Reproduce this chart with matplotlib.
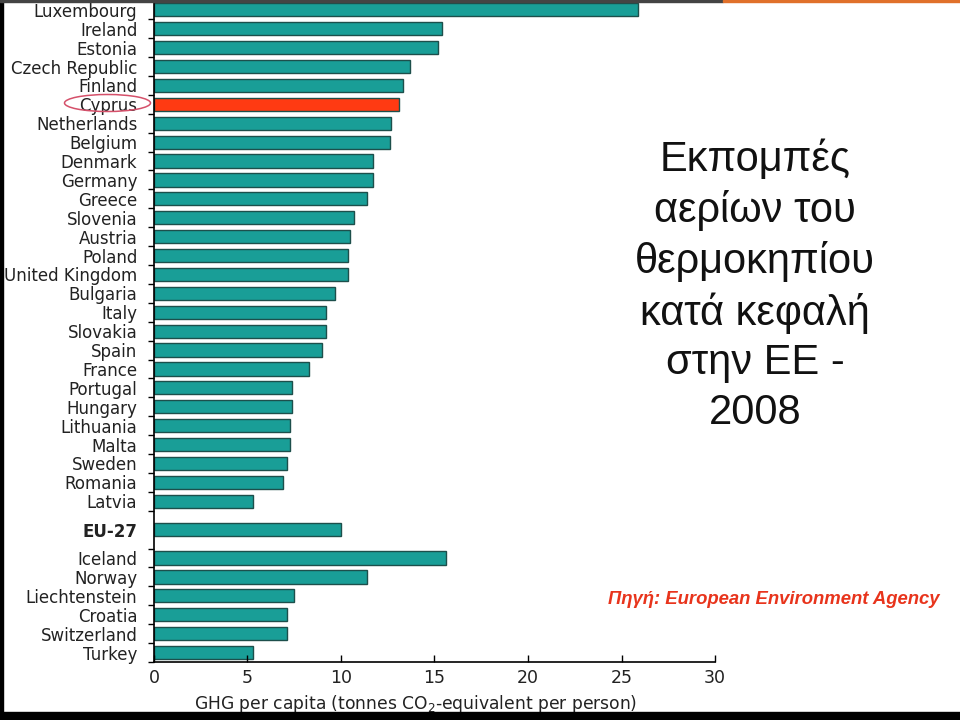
import matplotlib.pyplot as plt
from matplotlib.patches import Ellipse, Rectangle

# GHG per capita, 2008 (tonnes CO2-eq per person)
eu_countries = ['Luxembourg', 'Ireland', 'Estonia', 'Czech Republic', 'Finland', 'Cyprus',
                'Netherlands', 'Belgium', 'Denmark', 'Germany', 'Greece', 'Slovenia',
                'Austria', 'Poland', 'United Kingdom', 'Bulgaria', 'Italy', 'Slovakia',
                'Spain', 'France', 'Portugal', 'Hungary', 'Lithuania', 'Malta', 'Sweden',
                'Romania', 'Latvia']
eu_values = [25.9, 15.4, 15.2, 13.7, 13.3, 13.1,
             12.7, 12.6, 11.7, 11.7, 11.4, 10.7,
             10.5, 10.4, 10.4, 9.7, 9.2, 9.2,
             9.0, 8.3, 7.4, 7.4, 7.3, 7.3, 7.1,
             6.9, 5.3]
eu27_label = 'EU-27'
eu27_value = 10.0
other_countries = ['Iceland', 'Norway', 'Liechtenstein', 'Croatia', 'Switzerland', 'Turkey']
other_values = [15.6, 11.4, 7.5, 7.1, 7.1, 5.3]
highlight = 'Cyprus'

teal = '#199e97'
edge = '#1d4f4b'
red = '#ff3a12'

# y positions: EU countries, a gap, EU-27, a gap, others
eu_pos = list(range(len(eu_countries)))
eu27_pos = len(eu_countries) + 0.5
other_pos = [len(eu_countries) + 2 + i for i in range(len(other_countries))]

labels = eu_countries + [eu27_label] + other_countries
values = eu_values + [eu27_value] + other_values
positions = eu_pos + [eu27_pos] + other_pos
colors = [red if c == highlight else teal for c in labels]

fig = plt.figure(figsize=(9.6, 7.2), dpi=100)
ax = fig.add_axes([0.1604, 0.0806, 0.5844, 0.9189])

ax.barh(positions, values, height=0.7, color=colors, edgecolor=edge, linewidth=1)

ax.set_xlim(0, 30)
ax.set_ylim(other_pos[-1] + 0.5, -0.45)
ax.set_xticks([0, 5, 10, 15, 20, 25, 30])
ax.tick_params(axis='x', direction='in', length=5, width=1, labelsize=12.5, pad=5,
               labelcolor='#222222')
ax.set_yticks(positions)
ax.set_yticklabels(labels, fontsize=12, color='#222222', va='center_baseline')
ax.tick_params(axis='y', which='major', length=0, pad=12)
minor = [p - 0.5 for p in eu_pos] + [eu_pos[-1] + 0.5] + [p - 0.5 for p in other_pos] + [other_pos[-1] + 0.5]
ax.set_yticks(minor, minor=True)
ax.tick_params(axis='y', which='minor', direction='out', length=4, width=1)
for t in ax.get_yticklabels():
    if t.get_text() == eu27_label:
        t.set_fontweight('bold')

for s in ['top', 'right']:
    ax.spines[s].set_visible(False)
ax.spines['left'].set_linewidth(1.2)
ax.spines['bottom'].set_linewidth(1.2)

fig.text(0.433, 0.0222, 'GHG per capita (tonnes CO$_2$-equivalent per person)',
         ha='center', va='center', fontsize=12.3, color='#222222')

# red ring round the highlighted label
fig.patches.append(Ellipse((107.5 / 960, 1 - 103 / 720), 86 / 960, 17 / 720,
                           transform=fig.transFigure, fill=False,
                           edgecolor='#d5506a', linewidth=1.1))

fig.text(0.7865, 0.6025, 'Εκπομπές\nαερίων του\nθερμοκηπίου\nκατά κεφαλή\nστην ΕΕ -\n2008',
         ha='center', va='center', fontsize=30, linespacing=1.31,
         family=['Liberation Sans', 'DejaVu Sans'], color='#111111')

fig.text(0.6335, 0.1667, 'Πηγή: European Environment Agency', ha='left', va='center',
         fontsize=13.3, fontweight='bold', fontstyle='italic', color='#e8341c',
         family=['Liberation Sans', 'DejaVu Sans'])

# screen frame
fig.patches.append(Rectangle((0, 0), 1, 8 / 720, transform=fig.transFigure,
                             color='black', zorder=5))
fig.patches.append(Rectangle((0, 0), 3 / 960, 1, transform=fig.transFigure,
                             color='black', zorder=5))
fig.patches.append(Rectangle((0, 1 - 2 / 720), 723 / 960, 2 / 720, transform=fig.transFigure,
                             color='#444444', zorder=5))
fig.patches.append(Rectangle((723 / 960, 1 - 2 / 720), 237 / 960, 2 / 720,
                             transform=fig.transFigure, color='#e0702a', zorder=5))

fig.savefig('out.png', dpi=100)
